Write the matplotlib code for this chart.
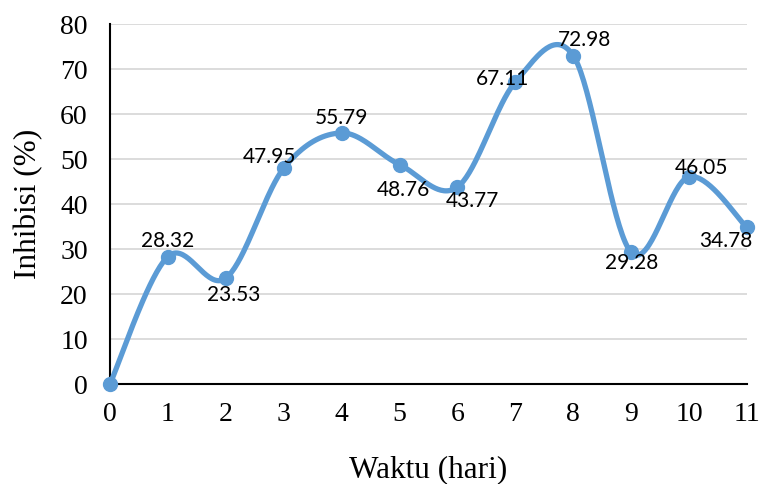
import numpy as np
import matplotlib.pyplot as plt

# inhibition (%) per day
hari = [0, 1, 2, 3, 4, 5, 6, 7, 8, 9, 10, 11]
inhibisi = [0, 28.32, 23.53, 47.95, 55.79, 48.76, 43.77, 67.11, 72.98, 29.28, 46.05, 34.78]
# label offsets in points (dx, dy) relative to each marker
label_off = [None, (0, 11), (6, -12), (-10, 8), (0, 11), (3, -18), (11, -10),
             (-9, 2), (8, 11), (0, -8), (9, 6), (-15, -10)]

blue = '#5B9BD5'


def smooth(x, y, n=40):
    # Bezier smoothing with catmull-rom style control points
    x = np.asarray(x, float)
    y = np.asarray(y, float)
    pts = np.column_stack([x, y])
    out = [pts[0]]
    t = np.linspace(0, 1, n)[1:, None]
    for i in range(len(pts) - 1):
        p0 = pts[max(i - 1, 0)]
        p1 = pts[i]
        p2 = pts[i + 1]
        p3 = pts[min(i + 2, len(pts) - 1)]
        c1 = p1 + (p2 - p0) / 6.0
        c2 = p2 - (p3 - p1) / 6.0
        seg = ((1 - t) ** 3) * p1 + 3 * ((1 - t) ** 2) * t * c1 + 3 * (1 - t) * t ** 2 * c2 + t ** 3 * p2
        out.extend(seg)
    out = np.array(out)
    return out[:, 0], out[:, 1]


fig = plt.figure(figsize=(7.61, 4.84), dpi=100)
ax = fig.add_axes([0.1445, 0.2066, 0.8371, 0.7438])

sx, sy = smooth(hari, inhibisi)
ax.plot(sx, sy, color=blue, lw=3.8, solid_capstyle='round', zorder=3, clip_on=False)
ax.plot(hari, inhibisi, 'o', color=blue, ms=10, zorder=4, clip_on=False)

for i, (xv, yv) in enumerate(zip(hari, inhibisi)):
    if label_off[i] is None:
        continue
    dx, dy = label_off[i]
    ax.annotate('%.2f' % yv, (xv, yv), xytext=(dx, dy), textcoords='offset points',
                ha='center', va='center', fontsize=15, family='Lato', zorder=5)

ax.set_xlim(0, 11)
ax.set_ylim(0, 80)
ax.set_xticks(hari)
ax.set_yticks(np.arange(0, 81, 10))
ax.grid(axis='y', color='#D9D9D9', lw=1.3)
ax.set_axisbelow(True)
for s in ['top', 'right']:
    ax.spines[s].set_visible(False)
for s in ['left', 'bottom']:
    ax.spines[s].set_color('black')
    ax.spines[s].set_linewidth(1.5)
ax.tick_params(length=0, labelsize=20, pad=13)
ax.tick_params(axis='y', pad=16)
for lab in ax.get_xticklabels() + ax.get_yticklabels():
    lab.set_family('Liberation Serif')

ax.set_xlabel('Waktu (hari)', fontsize=22.5, family='Liberation Serif', labelpad=20)
ax.set_ylabel('Inhibisi (%)', fontsize=22.5, family='Liberation Serif', labelpad=12)

plt.savefig('out.png', dpi=100)
